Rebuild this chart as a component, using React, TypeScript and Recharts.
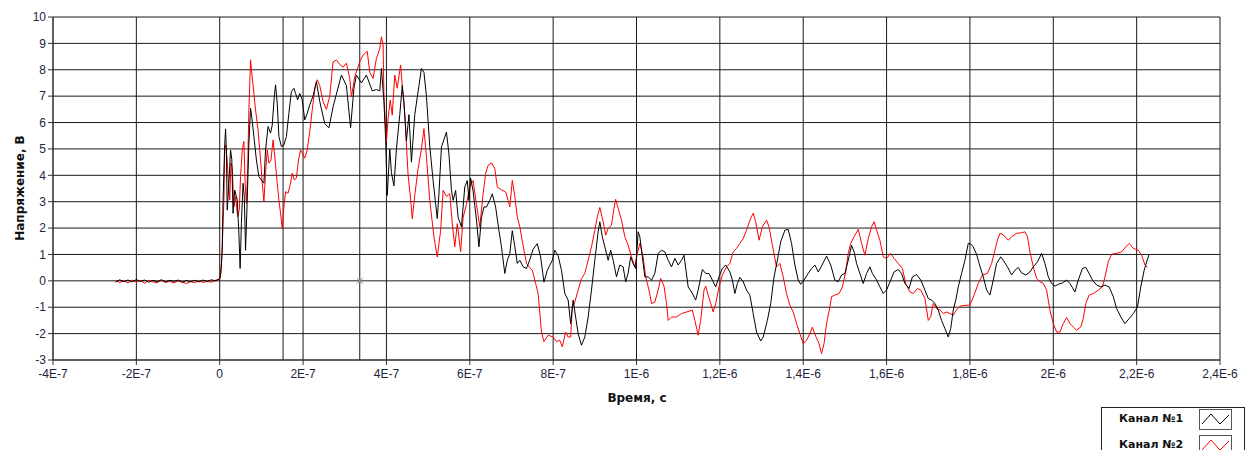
import { LineChart, Line, XAxis, YAxis, CartesianGrid, ReferenceLine, ReferenceDot } from 'recharts';

// time in ns, voltage in V
const ch1Points: [number, number][] = [
  [-250, -0.05], [-240, 0.04], [-230, -0.03], [-220, 0.03], [-210, -0.04], [-200, 0.05], [-190, -0.02],
  [-180, 0.03], [-170, -0.05], [-160, 0.02], [-150, -0.03], [-140, 0.04], [-130, -0.04], [-120, 0.02],
  [-110, -0.02], [-100, 0.03], [-90, -0.05], [-80, 0.01], [-70, -0.03], [-60, 0.02], [-50, -0.04],
  [-40, 0.03], [-30, -0.02], [-20, 0.04], [-10, 0.0], [0, 0.08], [3, 0.3], [6, 1.16], [8, 3.06],
  [12, 5.15], [14, 5.76], [16, 4.96], [18, 2.68], [22, 3.7], [26, 4.96], [29, 4.6], [32, 2.56],
  [36, 3.44], [42, 3.06], [46, 1.8], [49, 0.47], [52, 2.18], [56, 3.7], [59, 3.2], [62, 1.16],
  [66, 3.06], [70, 5.2], [74, 6.54], [77, 6.2], [82, 5.47], [88, 4.58], [94, 3.95], [100, 3.82],
  [106, 3.7], [110, 4.96], [116, 5.85], [122, 5.6], [126, 5.9], [131, 7.0], [134, 7.43], [138, 6.73],
  [142, 5.47], [148, 5.09], [154, 5.15], [160, 5.47], [166, 6.35], [172, 7.18], [178, 7.3], [182, 7.1],
  [187, 6.86], [192, 7.1], [198, 6.86], [204, 6.1], [210, 6.35], [216, 6.67], [224, 7.0], [232, 7.55],
  [240, 6.8], [252, 5.96], [262, 5.8], [272, 6.6], [292, 7.8], [304, 7.4], [314, 5.8], [322, 7.3],
  [328, 7.8], [340, 7.5], [352, 7.8], [366, 7.2], [376, 7.25], [384, 7.2], [388, 8.05], [394, 6.8],
  [398, 5.4], [402, 3.24], [408, 5.0], [412, 4.1], [418, 3.6], [424, 5.0], [432, 6.3], [438, 7.4],
  [442, 6.8], [448, 5.3], [454, 6.3], [460, 4.5], [468, 6.3], [478, 7.4], [484, 8.05], [490, 7.9],
  [496, 7.0], [504, 5.1], [512, 3.8], [522, 2.36], [526, 3.3], [532, 5.07], [540, 5.45], [544, 5.64],
  [550, 4.8], [556, 3.43], [560, 3.05], [566, 3.43], [572, 2.4], [580, 2.05], [588, 3.56], [594, 3.8],
  [598, 3.05], [602, 3.9], [608, 3.4], [616, 2.3], [622, 1.29], [628, 2.4], [634, 2.8], [640, 2.8],
  [648, 3.05], [654, 3.3], [662, 2.8], [670, 1.9], [676, 1.29], [684, 0.28], [690, 0.78], [696, 1.03],
  [702, 1.9], [708, 1.3], [714, 0.66], [720, 0.78], [728, 0.53], [736, 0.47], [744, 0.8], [752, 1.2],
  [762, 1.41], [770, 0.9], [778, -0.05], [786, 0.4], [798, 0.78], [804, 1.16], [812, 0.95], [820, 0.4],
  [828, -0.48], [836, -0.73], [842, -1.62], [848, -0.73], [854, -1.37], [860, -2.0], [868, -2.44],
  [876, -2.13], [884, -1.37], [892, -0.35], [900, 0.78], [908, 1.86], [912, 2.24], [918, 1.67],
  [924, 1.29], [932, 0.78], [938, 1.16], [944, 0.78], [952, 0.15], [960, 0.6], [968, 0.53], [974, -0.04],
  [980, 0.3], [986, 0.91], [992, 0.65], [998, 0.47], [1004, 1.86], [1008, 1.67], [1014, 0.91],
  [1020, 0.15], [1028, 0.15], [1036, 0.03], [1044, 0.28], [1052, 1.04], [1060, 1.16], [1068, 1.1],
  [1076, 0.78], [1084, 0.53], [1092, 0.85], [1100, 0.6], [1108, 0.78], [1114, 0.97], [1124, -0.23],
  [1132, -0.42], [1142, -0.73], [1148, -0.35], [1158, 0.43], [1166, 0.28], [1174, 0.28], [1182, 0.03],
  [1190, -0.23], [1198, 0.15], [1206, 0.47], [1214, 0.6], [1224, 0.34], [1230, 0.03], [1236, -0.48],
  [1242, -0.1], [1248, 0.13], [1256, -0.03], [1264, -0.35], [1272, -0.54], [1280, -1.24], [1288, -1.94],
  [1298, -2.28], [1304, -2.13], [1314, -1.5], [1322, -0.86], [1330, 0.15], [1338, 0.78], [1346, 1.48],
  [1356, 1.92], [1364, 1.95], [1372, 1.42], [1380, 0.6], [1388, 0.03], [1394, -0.13], [1402, 0.03],
  [1412, 0.28], [1420, 0.47], [1428, 0.6], [1436, 0.34], [1444, 0.56], [1456, 0.94], [1466, 0.6],
  [1476, 0.03], [1484, -0.03], [1492, 0.22], [1500, 0.28], [1510, 0.91], [1516, 1.35], [1522, 1.1],
  [1528, 0.66], [1536, 0.28], [1544, -0.1], [1552, 0.28], [1560, 0.53], [1566, 0.28], [1576, 0.03],
  [1584, -0.23], [1592, -0.48], [1600, -0.35], [1610, 0.03], [1618, 0.34], [1628, 0.43], [1636, 0.28],
  [1644, -0.1], [1654, -0.29], [1662, 0.15], [1672, 0.24], [1682, 0.03], [1692, -0.35], [1700, -0.67],
  [1708, -0.73], [1716, -0.86], [1724, -1.11], [1732, -1.5], [1740, -1.81], [1748, -2.13], [1754, -1.8],
  [1760, -1.11], [1766, -0.73], [1772, -0.23], [1780, 0.28], [1788, 0.78], [1796, 1.42], [1802, 1.4],
  [1808, 1.29], [1816, 1.0], [1822, 0.66], [1832, 0.15], [1840, -0.35], [1848, -0.54], [1856, 0.03],
  [1864, 0.66], [1874, 0.91], [1880, 0.78], [1890, 0.53], [1900, 0.22], [1908, 0.4], [1916, 0.51],
  [1924, 0.3], [1934, 0.22], [1944, 0.34], [1952, 0.53], [1962, 0.72], [1972, 1.04], [1980, 0.66],
  [1988, 0.15], [1996, -0.1], [2004, -0.2], [2012, -0.13], [2022, -0.08], [2032, 0.03], [2040, -0.1],
  [2052, -0.42], [2060, 0.03], [2070, 0.47], [2078, 0.51], [2086, 0.28], [2094, 0.03], [2104, -0.16],
  [2114, -0.23], [2124, -0.16], [2134, -0.23], [2144, -0.6], [2152, -1.05], [2162, -1.37], [2172, -1.62],
  [2182, -1.43], [2192, -1.24], [2202, -0.99], [2210, -0.23], [2218, 0.4], [2224, 0.72], [2230, 1.01],
];

const ch2Points: [number, number][] = [
  [-250, 0.02], [-240, -0.06], [-230, 0.0], [-220, -0.08], [-210, 0.03], [-200, -0.05], [-190, 0.01],
  [-180, -0.09], [-170, 0.02], [-160, -0.04], [-150, -0.07], [-140, 0.02], [-130, -0.06], [-120, -0.02],
  [-110, -0.08], [-100, 0.0], [-90, -0.05], [-80, -0.1], [-70, -0.03], [-60, -0.07], [-50, 0.01],
  [-40, -0.06], [-30, -0.02], [-20, -0.05], [-10, 0.02], [0, 0.06], [4, 0.66], [6, 1.29], [10, 3.0],
  [12, 5.09], [14, 5.15], [18, 4.58], [21, 3.7], [24, 3.06], [27, 4.46], [30, 4.3], [34, 2.8],
  [38, 3.19], [43, 2.43], [47, 2.7], [50, 3.95], [54, 4.96], [58, 5.28], [61, 3.7], [64, 2.94],
  [67, 4.2], [70, 6.48], [74, 8.38], [77, 7.87], [82, 7.1], [86, 6.48], [92, 5.72], [98, 4.58],
  [102, 3.7], [106, 3.0], [110, 4.08], [114, 4.96], [118, 4.46], [123, 4.58], [128, 5.34], [133, 4.58],
  [138, 3.7], [142, 3.06], [146, 2.56], [150, 1.99], [154, 2.8], [158, 3.38], [164, 3.32], [170, 3.7],
  [174, 4.08], [179, 3.82], [184, 3.9], [189, 4.58], [194, 4.96], [198, 4.84], [204, 4.65], [210, 4.96],
  [216, 5.66], [222, 6.48], [229, 7.37], [234, 7.62], [240, 7.4], [248, 6.8], [256, 6.5], [264, 7.0],
  [272, 8.3], [280, 8.37], [288, 8.2], [296, 8.1], [304, 8.25], [312, 7.67], [316, 6.97], [324, 7.73],
  [336, 8.3], [344, 8.56], [354, 8.7], [360, 7.9], [368, 7.67], [376, 8.43], [384, 8.8], [388, 9.25],
  [392, 8.94], [394, 7.0], [400, 5.27], [404, 6.15], [409, 6.85], [414, 6.28], [420, 7.8], [426, 7.3],
  [434, 8.18], [440, 7.0], [444, 6.3], [452, 4.0], [458, 3.1], [462, 2.35], [468, 3.24], [476, 4.25],
  [484, 5.0], [490, 5.77], [496, 4.7], [504, 3.05], [514, 1.67], [522, 0.9], [530, 1.9], [536, 3.43],
  [544, 3.2], [552, 3.3], [558, 2.17], [564, 1.29], [570, 2.17], [578, 1.1], [584, 2.4], [592, 2.9],
  [600, 3.56], [608, 3.8], [616, 2.9], [624, 2.05], [632, 3.3], [638, 4.07], [644, 4.38], [652, 4.47],
  [660, 4.25], [666, 3.56], [676, 3.45], [686, 3.37], [692, 3.05], [696, 2.8], [702, 3.81], [708, 3.2],
  [714, 2.42], [720, 2.05], [730, 1.16], [736, 0.66], [744, 0.5], [750, 0.4], [758, -0.1], [764, -0.48],
  [772, -1.94], [778, -2.3], [788, -2.06], [800, -2.13], [808, -2.3], [816, -2.25], [822, -2.5],
  [830, -1.94], [836, -2.13], [842, -2.13], [846, -1.0], [852, -0.8], [860, -0.35], [868, 0.09],
  [876, 0.28], [884, 0.78], [892, 1.29], [900, 1.92], [906, 2.43], [912, 2.78], [920, 2.24], [926, 1.73],
  [932, 1.99], [940, 2.11], [946, 2.75], [950, 3.09], [956, 2.75], [964, 2.3], [972, 1.67], [980, 1.35],
  [988, 0.91], [996, 0.53], [1002, 1.04], [1008, 1.42], [1016, 0.91], [1022, 0.15], [1030, -0.35],
  [1036, -0.86], [1044, -0.8], [1052, -0.35], [1058, 0.09], [1066, -0.2], [1072, -0.86], [1076, -1.5],
  [1084, -1.37], [1096, -1.37], [1108, -1.24], [1120, -1.18], [1134, -1.11], [1140, -1.5], [1148, -2.06],
  [1154, -1.5], [1162, -0.35], [1166, -0.2], [1172, -0.54], [1178, -0.86], [1184, -1.18], [1190, -0.86],
  [1198, -0.23], [1206, 0.22], [1216, 0.53], [1224, 0.66], [1232, 1.1], [1240, 1.23], [1248, 1.42],
  [1256, 1.6], [1264, 1.92], [1274, 2.37], [1280, 2.56], [1286, 2.24], [1294, 1.54], [1302, 2.05],
  [1312, 2.3], [1318, 2.05], [1326, 1.35], [1336, 0.53], [1344, 0.66], [1352, 0.15], [1360, -0.48],
  [1368, -0.92], [1376, -1.18], [1384, -1.62], [1392, -2.0], [1400, -2.38], [1408, -2.25], [1416, -2.0],
  [1422, -1.75], [1430, -2.1], [1438, -2.38], [1444, -2.76], [1450, -2.38], [1456, -1.62], [1464, -0.99],
  [1468, -0.6], [1476, -0.54], [1486, -0.48], [1494, -0.23], [1502, 0.34], [1508, 1.04], [1514, 1.42],
  [1522, 1.67], [1532, 1.95], [1540, 1.42], [1548, 0.97], [1556, 1.6], [1564, 2.05], [1570, 2.24],
  [1576, 1.92], [1584, 1.54], [1592, 0.91], [1600, 0.85], [1610, 1.04], [1618, 0.85], [1628, 0.66],
  [1638, 0.47], [1646, -0.1], [1656, -0.42], [1664, -0.48], [1674, -0.29], [1682, -0.35], [1692, -0.67],
  [1700, -1.5], [1706, -1.35], [1712, -0.86], [1720, -1.05], [1728, -1.1], [1736, -1.24], [1744, -1.18],
  [1752, -1.24], [1760, -1.3], [1768, -1.1], [1776, -0.96], [1788, -0.93], [1800, -0.92], [1810, -0.54],
  [1820, -0.1], [1830, 0.22], [1842, 0.28], [1852, 0.66], [1860, 1.16], [1866, 1.54], [1872, 1.8],
  [1880, 1.74], [1892, 1.54], [1900, 1.67], [1912, 1.8], [1924, 1.82], [1932, 1.86], [1938, 1.67],
  [1944, 1.1], [1952, 0.53], [1960, 0.09], [1968, -0.03], [1976, -0.1], [1984, -0.35], [1992, -1.11],
  [2000, -1.62], [2008, -1.94], [2016, -1.94], [2024, -1.62], [2032, -1.39], [2040, -1.62], [2048, -1.75],
  [2056, -1.87], [2066, -1.75], [2072, -1.43], [2078, -0.86], [2086, -0.54], [2096, -0.48], [2108, -0.35],
  [2118, -0.23], [2124, 0.15], [2132, 0.72], [2140, 1.01], [2152, 1.04], [2164, 1.1], [2174, 1.29],
  [2182, 1.42], [2192, 1.23], [2204, 1.16], [2212, 0.97], [2220, 0.6], [2226, 0.51],
];

const xTicks = [-400, -200, 0, 200, 400, 600, 800, 1000, 1200, 1400, 1600, 1800, 2000, 2200, 2400];
const xTickLabels = ['-4E-7', '-2E-7', '0', '2E-7', '4E-7', '6E-7', '8E-7', '1E-6', '1,2E-6', '1,4E-6', '1,6E-6', '1,8E-6', '2E-6', '2,2E-6', '2,4E-6'];
const yTicks = [-3, -2, -1, 0, 1, 2, 3, 4, 5, 6, 7, 8, 9, 10];
const cursorTimes = [152, 336];
const seriesNames = ['Канал №1', 'Канал №2'];

const ch1 = ch1Points.map(([t, v]) => ({ t, v }));
const ch2 = ch2Points.map(([t, v]) => ({ t, v }));

const FONT = '"Liberation Sans", Arial, sans-serif';
const TITLE_FONT = '"DejaVu Sans", Verdana, sans-serif';
const tickStyle = { fontSize: 12, fill: '#1e2440', fontFamily: FONT };

function CursorMark(props: any) {
  const { cx, cy } = props;
  return (
    <g stroke="#888" strokeWidth={1}>
      <line x1={cx - 3} y1={cy - 3} x2={cx + 3} y2={cy + 3} />
      <line x1={cx + 3} y1={cy - 3} x2={cx - 3} y2={cy + 3} />
      <line x1={cx} y1={cy - 3} x2={cx} y2={cy + 3} />
    </g>
  );
}

function LegendBox() {
  const colors = ['#000', '#ff0000'];
  return (
    <div style={{ position: 'absolute', left: 1101, top: 407, width: 142, height: 60, border: '1px solid #222', background: '#fff', fontFamily: TITLE_FONT }}>
      {seriesNames.map((name, i) => (
        <div key={name} style={{ position: 'absolute', left: 0, top: i * 26, height: 22, width: 142 }}>
          <span style={{ position: 'absolute', left: 17, top: 4, fontSize: 11, fontWeight: 'bold', color: '#111' }}>{name}</span>
          <svg style={{ position: 'absolute', left: 97, top: 1 }} width={33} height={21}>
            <rect x={0.5} y={0.5} width={32} height={20} fill="#fff" stroke="#555" />
            <polyline points="3,15 12,5 21,15 30,6" fill="none" stroke={colors[i]} strokeWidth={1} />
          </svg>
        </div>
      ))}
    </div>
  );
}

export default function App() {
  return (
    <div style={{ position: 'absolute', left: 0, top: 0, width: 1245, height: 450, background: '#fff', overflow: 'hidden' }}>
      <LineChart width={1245} height={450} margin={{ top: 17, right: 25, bottom: 60, left: 0 }}>
        <CartesianGrid stroke="#1a1a1a" strokeWidth={1} horizontalValues={yTicks} verticalValues={xTicks} />
        <XAxis
          type="number"
          dataKey="t"
          domain={[-400, 2400]}
          ticks={xTicks}
          allowDataOverflow
          interval={0}
          height={30}
          tickSize={5}
          tickMargin={4}
          stroke="#333"
          tick={tickStyle}
          tickFormatter={(v: number) => xTickLabels[xTicks.indexOf(v)] ?? String(v)}
        />
        <YAxis
          type="number"
          dataKey="v"
          domain={[-3, 10]}
          ticks={yTicks}
          allowDataOverflow
          interval={0}
          width={53}
          tickSize={5}
          tickMargin={2}
          stroke="#333"
          tick={tickStyle}
        />
        {cursorTimes.map((t) => (
          <ReferenceLine key={t} x={t} stroke="#1a1a1a" strokeWidth={1} />
        ))}
        <Line data={ch2} dataKey="v" name={seriesNames[1]} stroke="#ff0000" strokeWidth={1} dot={false} isAnimationActive={false} />
        <Line data={ch1} dataKey="v" name={seriesNames[0]} stroke="#000000" strokeWidth={1} dot={false} isAnimationActive={false} />
        <ReferenceDot x={cursorTimes[1]} y={0} shape={CursorMark} />
        <text x={20} y={188} transform="rotate(-90 20 188)" textAnchor="middle" dominantBaseline="middle" fontSize={12} fontWeight="bold" fontFamily={TITLE_FONT} fill="#111">
          Напряжение, В
        </text>
        <text x={637} y={398} textAnchor="middle" dominantBaseline="middle" fontSize={12} fontWeight="bold" fontFamily={TITLE_FONT} fill="#111">
          Время, с
        </text>
      </LineChart>
      <LegendBox />
    </div>
  );
}
